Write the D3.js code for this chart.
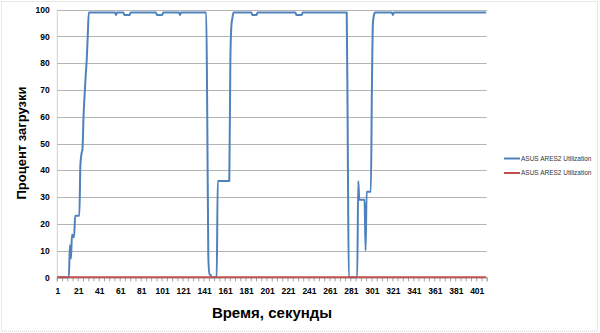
<!DOCTYPE html>
<html>
<head>
<meta charset="utf-8">
<script src="https://cdn.jsdelivr.net/npm/d3@7"></script>
<style>
	body { margin: 0; background: #fff; }
	svg { display: block; }
</style>
</head>
<body>
<script>
// blue series, one value per second (1..410)
var blueValues = [
	0, 0, 0, 0, 0, 0, 0, 0, 0, 0,
	0, 0, 12, 7, 16, 15, 15, 23, 23, 23,
	23, 23, 42, 46, 48, 60, 68, 75, 81, 90,
	99, 99, 99, 99, 99, 99, 99, 99, 99, 99,
	99, 99, 99, 99, 99, 99, 99, 99, 99, 99,
	99, 99, 99, 99, 99, 99, 98, 99, 99, 99,
	99, 99, 99, 99, 98, 98, 98, 98, 98, 98,
	99, 99, 99, 99, 99, 99, 99, 99, 99, 99,
	99, 99, 99, 99, 99, 99, 99, 99, 99, 99,
	99, 99, 99, 99, 99, 98, 98, 98, 98, 98,
	98, 99, 99, 99, 99, 99, 99, 99, 99, 99,
	99, 99, 99, 99, 99, 99, 99, 98, 99, 99,
	99, 99, 99, 99, 99, 99, 99, 99, 99, 99,
	99, 99, 99, 99, 99, 99, 99, 99, 99, 99,
	99, 99, 99, 60, 8, 1, 1, 0, 0, 0,
	0, 0, 0, 36, 36, 36, 36, 36, 36, 36,
	36, 36, 36, 36, 36, 80, 94, 97, 99, 99,
	99, 99, 99, 99, 99, 99, 99, 99, 99, 99,
	99, 99, 99, 99, 99, 99, 98, 98, 98, 98,
	98, 99, 99, 99, 99, 99, 99, 99, 99, 99,
	99, 99, 99, 99, 99, 99, 99, 99, 99, 99,
	99, 99, 99, 99, 99, 99, 99, 99, 99, 99,
	99, 99, 99, 99, 99, 99, 99, 99, 98, 98,
	98, 98, 98, 98, 99, 99, 99, 99, 99, 99,
	99, 99, 99, 99, 99, 99, 99, 99, 99, 99,
	99, 99, 99, 99, 99, 99, 99, 99, 99, 99,
	99, 99, 99, 99, 99, 99, 99, 99, 99, 99,
	99, 99, 99, 99, 99, 99, 99, 50, 0, 0,
	0, 0, 0, 0, 0, 0, 0, 36, 29, 29,
	29, 29, 29, 29, 10, 32, 32, 32, 32, 32,
	70, 95, 98, 99, 99, 99, 99, 99, 99, 99,
	99, 99, 99, 99, 99, 99, 99, 99, 99, 99,
	98, 99, 99, 99, 99, 99, 99, 99, 99, 99,
	99, 99, 99, 99, 99, 99, 99, 99, 99, 99,
	99, 99, 99, 99, 99, 99, 99, 99, 99, 99,
	99, 99, 99, 99, 99, 99, 99, 99, 99, 99,
	99, 99, 99, 99, 99, 99, 99, 99, 99, 99,
	99, 99, 99, 99, 99, 99, 99, 99, 99, 99,
	99, 99, 99, 99, 99, 99, 99, 99, 99, 99,
	99, 99, 99, 99, 99, 99, 99, 99, 99, 99,
	99, 99, 99, 99, 99, 99, 99, 99, 99, 99
];

// red series sits flat on zero the whole time
var redValues = [
	0, 0, 0, 0, 0, 0, 0, 0, 0, 0, 0, 0, 0, 0, 0, 0, 0, 0, 0, 0, 0, 0, 0, 0, 0, 0, 0, 0, 0, 0, 0, 0, 0, 0, 0, 0, 0, 0, 0, 0, 0,
	0, 0, 0, 0, 0, 0, 0, 0, 0, 0, 0, 0, 0, 0, 0, 0, 0, 0, 0, 0, 0, 0, 0, 0, 0, 0, 0, 0, 0, 0, 0, 0, 0, 0, 0, 0, 0, 0, 0, 0, 0,
	0, 0, 0, 0, 0, 0, 0, 0, 0, 0, 0, 0, 0, 0, 0, 0, 0, 0, 0, 0, 0, 0, 0, 0, 0, 0, 0, 0, 0, 0, 0, 0, 0, 0, 0, 0, 0, 0, 0, 0, 0,
	0, 0, 0, 0, 0, 0, 0, 0, 0, 0, 0, 0, 0, 0, 0, 0, 0, 0, 0, 0, 0, 0, 0, 0, 0, 0, 0, 0, 0, 0, 0, 0, 0, 0, 0, 0, 0, 0, 0, 0, 0,
	0, 0, 0, 0, 0, 0, 0, 0, 0, 0, 0, 0, 0, 0, 0, 0, 0, 0, 0, 0, 0, 0, 0, 0, 0, 0, 0, 0, 0, 0, 0, 0, 0, 0, 0, 0, 0, 0, 0, 0, 0,
	0, 0, 0, 0, 0, 0, 0, 0, 0, 0, 0, 0, 0, 0, 0, 0, 0, 0, 0, 0, 0, 0, 0, 0, 0, 0, 0, 0, 0, 0, 0, 0, 0, 0, 0, 0, 0, 0, 0, 0, 0,
	0, 0, 0, 0, 0, 0, 0, 0, 0, 0, 0, 0, 0, 0, 0, 0, 0, 0, 0, 0, 0, 0, 0, 0, 0, 0, 0, 0, 0, 0, 0, 0, 0, 0, 0, 0, 0, 0, 0, 0, 0,
	0, 0, 0, 0, 0, 0, 0, 0, 0, 0, 0, 0, 0, 0, 0, 0, 0, 0, 0, 0, 0, 0, 0, 0, 0, 0, 0, 0, 0, 0, 0, 0, 0, 0, 0, 0, 0, 0, 0, 0, 0,
	0, 0, 0, 0, 0, 0, 0, 0, 0, 0, 0, 0, 0, 0, 0, 0, 0, 0, 0, 0, 0, 0, 0, 0, 0, 0, 0, 0, 0, 0, 0, 0, 0, 0, 0, 0, 0, 0, 0, 0, 0,
	0, 0, 0, 0, 0, 0, 0, 0, 0, 0, 0, 0, 0, 0, 0, 0, 0, 0, 0, 0, 0, 0, 0, 0, 0, 0, 0, 0, 0, 0, 0, 0, 0, 0, 0, 0, 0, 0, 0, 0, 0
];

var seriesNames = ['ASUS ARES2 Utilization', 'ASUS ARES2 Utilization'];
var seriesColors = ['#4f81bd', '#c0504d'];
var yTicks = [0, 10, 20, 30, 40, 50, 60, 70, 80, 90, 100];
var xLabels = [1, 21, 41, 61, 81, 101, 121, 141, 161, 181, 201, 221, 241, 261, 281, 301, 321, 341, 361, 381, 401];

var width = 600, height = 333;
var plot = { left: 56.8, right: 486.7, top: 9.7, bottom: 277.3 };
var font = '"Liberation Sans", Arial, sans-serif';

var svg = d3.select('body').append('svg')
	.attr('width', width)
	.attr('height', height);

// outer frame of the chart
svg.append('rect')
	.attr('x', 1.5).attr('y', 1.5)
	.attr('width', 596).attr('height', 329.5)
	.attr('fill', '#fff')
	.attr('stroke', '#d0d0d0')
	.attr('stroke-dasharray', '1,1');

var x = d3.scaleLinear()
	.domain([0.5, blueValues.length + 0.5])
	.range([plot.left, plot.right]);

var y = d3.scaleLinear()
	.domain([0, 100])
	.range([plot.bottom, plot.top]);

// horizontal gridlines
svg.append('g')
	.selectAll('line')
	.data(yTicks.slice(1))
	.enter().append('line')
	.attr('x1', plot.left)
	.attr('x2', plot.right)
	.attr('y1', function(d) { return Math.round(y(d)) + 0.5; })
	.attr('y2', function(d) { return Math.round(y(d)) + 0.5; })
	.attr('stroke', '#b3b3b3')
	.attr('stroke-width', 1);

// y axis
var yAxis = svg.append('g')
	.attr('transform', 'translate(' + plot.left + ',0)')
	.call(d3.axisLeft(y).tickValues(yTicks).tickSize(0).tickPadding(7));
yAxis.select('.domain').attr('stroke', '#d0d0d0');
yAxis.selectAll('text')
	.style('font-family', font)
	.style('font-size', '8.5px')
	.style('font-weight', 'bold')
	.attr('fill', '#000');

// x axis: minor ticks every 5 seconds
var tickBounds = d3.range(0, blueValues.length + 1, 5).map(function(d) { return d + 0.5; });
var xTicks = svg.append('g')
	.attr('transform', 'translate(0,' + plot.bottom + ')')
	.call(d3.axisBottom(x).tickValues(tickBounds).tickSize(4).tickFormat(''));
xTicks.select('.domain').attr('stroke', '#a0a0a0');
xTicks.selectAll('line').attr('stroke', '#a0a0a0');

// x axis labels every 20 seconds
var xAxis = svg.append('g')
	.attr('transform', 'translate(0,' + plot.bottom + ')')
	.call(d3.axisBottom(x).tickValues(xLabels).tickSize(0).tickPadding(11));
xAxis.select('.domain').remove();
xAxis.selectAll('text')
	.style('font-family', font)
	.style('font-size', '8.5px')
	.style('font-weight', 'bold')
	.attr('fill', '#000');

// lines (red drawn last so it covers blue at zero)
var line = d3.line()
	.x(function(d, i) { return x(i + 1); })
	.y(function(d) { return y(d); })
	.curve(d3.curveMonotoneX);

svg.append('path')
	.datum(blueValues)
	.attr('d', line)
	.attr('fill', 'none')
	.attr('stroke', seriesColors[0])
	.attr('stroke-width', 2)
	.attr('stroke-linejoin', 'round');

svg.append('path')
	.datum(redValues)
	.attr('d', line)
	.attr('fill', 'none')
	.attr('stroke', seriesColors[1])
	.attr('stroke-width', 2);

// axis titles
svg.append('text')
	.attr('transform', 'translate(26,143)rotate(-90)')
	.attr('text-anchor', 'middle')
	.style('font-family', font)
	.style('font-size', '13px')
	.style('font-weight', 'bold')
	.text('Процент загрузки');

svg.append('text')
	.attr('x', 272)
	.attr('y', 318)
	.attr('text-anchor', 'middle')
	.style('font-family', font)
	.style('font-size', '15px')
	.style('font-weight', 'bold')
	.text('Время, секунды');

// legend
var legend = svg.append('g')
	.selectAll('g')
	.data(seriesNames)
	.enter().append('g')
	.attr('transform', function(d, i) { return 'translate(504,' + (158.5 + i * 14.5) + ')'; });

legend.append('line')
	.attr('x1', 0).attr('x2', 16)
	.attr('stroke', function(d, i) { return seriesColors[i]; })
	.attr('stroke-width', 2);

legend.append('text')
	.attr('x', 17)
	.attr('dy', '0.33em')
	.style('font-family', font)
	.style('font-size', '6.5px')
	.attr('fill', '#333')
	.text(function(d) { return d; });
</script>
</body>
</html>
